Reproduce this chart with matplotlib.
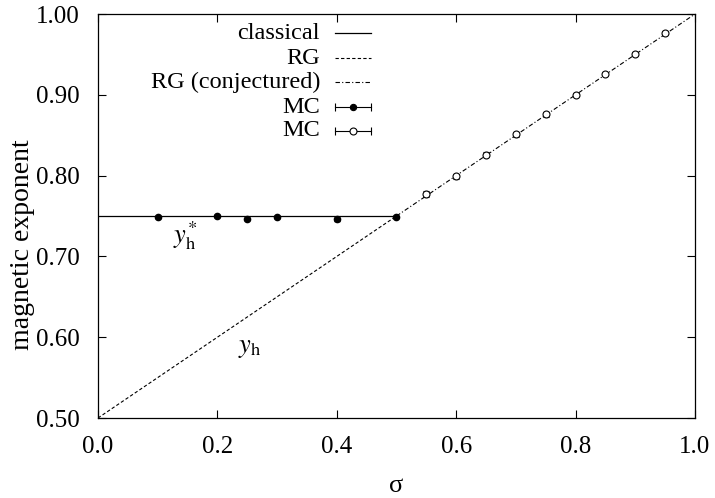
import matplotlib
matplotlib.use("Agg")
import matplotlib.pyplot as plt
import numpy as np

# Data
sigma_classical = [0.0, 0.5]
y_classical = [0.75, 0.75]
sigma_rg = [0.0, 0.5]
y_rg = [0.5, 0.75]
sigma_rg_conj = [0.5, 1.0]
y_rg_conj = [0.75, 1.0]

sigma_mc_filled = [0.1, 0.2, 0.25, 0.3, 0.4, 0.5]
y_mc_filled = [0.749, 0.750, 0.746, 0.749, 0.746, 0.749]
err_mc_filled = [0.001, 0.001, 0.001, 0.001, 0.002, 0.001]

sigma_mc_open = [0.55, 0.6, 0.65, 0.7, 0.75, 0.8, 0.85, 0.9, 0.95]
y_mc_open = [0.777, 0.799, 0.826, 0.851, 0.876, 0.900, 0.926, 0.951, 0.977]
err_mc_open = [0.004, 0.003, 0.003, 0.003, 0.003, 0.002, 0.002, 0.002, 0.002]

legend_labels = ['classical', 'RG', 'RG (conjectured)', 'MC', 'MC']

xticks = [0.0, 0.2, 0.4, 0.6, 0.8, 1.0]
yticks = [0.5, 0.6, 0.7, 0.8, 0.9, 1.0]

plt.rcParams['font.family'] = ['Liberation Serif', 'DejaVu Serif']
plt.rcParams['mathtext.fontset'] = 'stix'

fig = plt.figure(figsize=(7.15, 4.98), dpi=100)
ax = fig.add_axes([0.137, 0.1606, 0.835, 0.8112])

styles = [
    dict(ls='-', color='black', lw=0.9),
    dict(ls='--', color='black', lw=0.8, dashes=(3, 2)),
    dict(ls='-.', color='black', lw=0.8, dashes=(4, 2, 1, 2)),
]
ax.plot(sigma_classical, y_classical, **styles[0])
ax.plot(sigma_rg, y_rg, **styles[1])
ax.plot(sigma_rg_conj, y_rg_conj, **styles[2])
ax.errorbar(sigma_mc_filled, y_mc_filled, yerr=err_mc_filled, fmt='o', color='black',
            mfc='black', ms=4.5, lw=0.8, capsize=2.5)
ax.errorbar(sigma_mc_open, y_mc_open, yerr=err_mc_open, fmt='o', color='black',
            mfc='white', ms=5, mew=0.8, lw=0.8, capsize=2.5)

ax.set_xlim(0, 1)
ax.set_ylim(0.5, 1.0)
ax.set_xticks(xticks)
ax.set_xticklabels([f"{v:.1f}" for v in xticks])
ax.set_yticks(yticks)
ax.set_yticklabels([f"{v:.2f}" for v in yticks])
ax.tick_params(direction='in', top=True, right=True, labelsize=18, length=6, width=0.8, pad=13)
for s in ax.spines.values():
    s.set_linewidth(0.9)

ax.set_xlabel('σ', fontsize=19, labelpad=12)
ax.set_ylabel('magnetic exponent', fontsize=20, labelpad=2)
ax.yaxis.set_label_coords(-0.105, 0.428)

ax.text(0.125, 0.717, r'$y_{\rm h}^{*}$', fontsize=19)
ax.text(0.235, 0.582, r'$y_{\rm h}$', fontsize=19)

# Manual right-aligned legend (gnuplot style)
tx = 0.372
hx0, hx1 = 0.397, 0.458
rows = [0.953, 0.890, 0.832, 0.769, 0.711]
tr = ax.transAxes
for i, (lab, yy) in enumerate(zip(legend_labels, rows)):
    ax.text(tx, yy, lab, transform=tr, ha='right', va='center', fontsize=17.5)
    if i < 3:
        ax.plot([hx0, hx1], [yy, yy], transform=tr, clip_on=False, **styles[i])
    else:
        ax.plot([hx0, hx1], [yy, yy], transform=tr, clip_on=False, color='black', lw=0.8)
        ax.plot([hx0, hx1], [yy, yy], transform=tr, clip_on=False, ls='none',
                marker='|', ms=6, mew=0.8, color='black')
        filled = (i == 3)
        ax.plot([(hx0 + hx1) / 2], [yy], transform=tr, clip_on=False, ls='none',
                marker='o', ms=4.5 if filled else 5, mew=0.8, color='black',
                mfc='black' if filled else 'white')

fig.savefig('out.png', dpi=100)
